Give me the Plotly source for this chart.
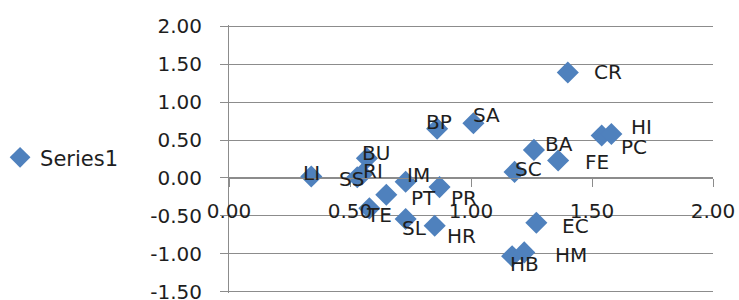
import plotly.graph_objects as go

# ---- data ----
labels = ["LI", "SS", "RI", "BU", "IM", "PT", "TE", "SL", "PR", "HR", "BP",
          "SA", "SC", "BA", "FE", "PC", "HI", "CR", "EC", "HB", "HM"]
x_vals = [0.34, 0.53, 0.55, 0.57, 0.73, 0.65, 0.58, 0.73, 0.87, 0.85, 0.86,
          1.01, 1.18, 1.26, 1.36, 1.54, 1.58, 1.40, 1.27, 1.17, 1.22]
y_vals = [0.02, 0.01, 0.05, 0.26, -0.05, -0.22, -0.40, -0.54, -0.12, -0.63, 0.65,
          0.72, 0.08, 0.37, 0.23, 0.56, 0.58, 1.39, -0.59, -1.03, -0.98]
series_name = "Series1"
x_ticks = [0.0, 0.5, 1.0, 1.5, 2.0]
y_ticks = [-1.5, -1.0, -0.5, 0.0, 0.5, 1.0, 1.5, 2.0]

# ---- label placement (style: pixel offsets of each data label) ----
label_dx = [0, -6, 11, 9, 13, 37, 10, 9, 24, 27, 2,
            13, 14, 25, 39, 32, 30, 40, 39, 12, 47]
label_dy = [-3, 2, -3, -5, -7, 3, 7, 9, 11, 10, -7,
            -8, -3, -6, 1, 12, -7, 0, 3, 8, 3]

FONT = "DejaVu Sans"
TXT = "#1e1e1e"
GRID = "#8c8c8c"
BLUE = "#4F81BD"

fig = go.Figure()
fig.add_trace(go.Scatter(
    x=x_vals, y=y_vals, mode="markers", name=series_name,
    marker=dict(symbol="diamond", size=17, color=BLUE, line=dict(width=0)),
    showlegend=True, hoverinfo="skip",
))

for lab, xv, yv, dx, dy in zip(labels, x_vals, y_vals, label_dx, label_dy):
    fig.add_annotation(x=xv, y=yv, text=lab, showarrow=False,
                       xshift=dx, yshift=-dy,
                       font=dict(family=FONT, size=20, color=TXT))

ymin, ymax = y_ticks[0], y_ticks[-1]
eps = 0.015
fig.update_layout(
    width=739, height=300,
    margin=dict(l=229, r=26, t=25, b=7, autoexpand=False),
    paper_bgcolor="white", plot_bgcolor="white",
    font=dict(family=FONT, size=20, color=TXT),
    legend=dict(x=-0.473, y=0.505, xanchor="left", yanchor="middle",
                font=dict(family=FONT, size=21, color=TXT),
                bgcolor="rgba(0,0,0,0)", borderwidth=0, itemsizing="trace"),
    xaxis=dict(range=[x_ticks[0], x_ticks[-1]], tickvals=x_ticks,
               ticktext=[f"{v:.2f}" for v in x_ticks],
               showgrid=False, zeroline=False, showline=True, linecolor=GRID, linewidth=1,
               ticks="outside", ticklen=8, tickcolor=GRID, automargin=False,
               anchor="free", position=(0 - (ymin - eps)) / (ymax - ymin + 2 * eps),
               ticklabelstandoff=7, ticklabeloverflow="allow",
               tickfont=dict(family=FONT, size=20, color=TXT)),
    yaxis=dict(range=[ymin - eps, ymax + eps], tickvals=y_ticks,
               ticktext=[f"{v:.2f}" for v in y_ticks],
               showgrid=True, gridcolor=GRID, gridwidth=1, zeroline=False,
               showline=True, linecolor=GRID, linewidth=1,
               ticks="outside", ticklen=8, tickcolor=GRID, automargin=False,
               ticklabelstandoff=14, ticklabeloverflow="allow",
               tickfont=dict(family=FONT, size=20, color=TXT)),
)

fig.write_html("out.html", config={"displayModeBar": False},
               post_script="document.body.style.margin='0';document.body.style.padding='0';")
